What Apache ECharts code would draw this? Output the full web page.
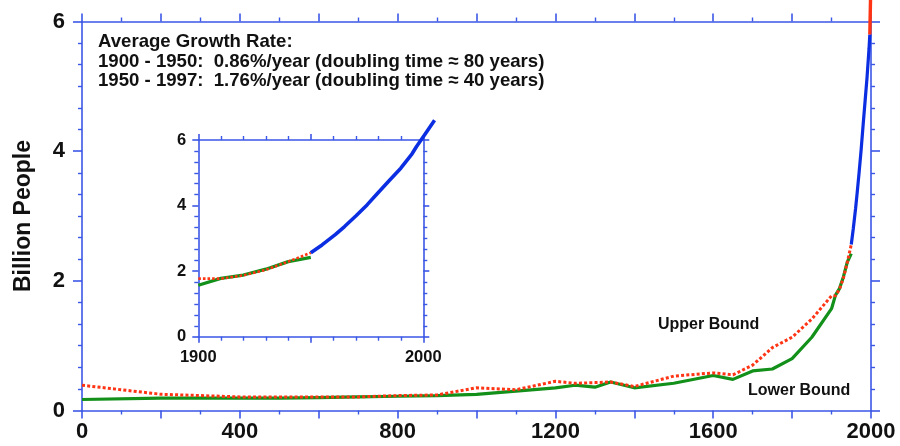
<!DOCTYPE html>
<html>
<head>
<meta charset="utf-8">
<script src="https://cdn.jsdelivr.net/npm/echarts@6/dist/echarts.min.js"></script>
<style>html,body{margin:0;padding:0;background:#fff}#c{width:900px;height:446px}</style>
</head>
<body>
<div id="c"></div>
<script>
// ---- data (billions of people) ----
const boundYears  = [0, 200, 400, 500, 600, 700, 800, 900, 1000, 1100, 1200, 1250, 1300, 1340, 1400, 1500, 1600, 1650, 1700, 1750, 1800, 1850, 1900, 1910, 1920, 1930, 1940, 1950];
const lowerValues = [0.17, 0.19, 0.19, 0.19, 0.20, 0.21, 0.22, 0.23, 0.25, 0.30, 0.35, 0.39, 0.36, 0.44, 0.35, 0.42, 0.54, 0.48, 0.61, 0.64, 0.80, 1.13, 1.57, 1.78, 1.88, 2.06, 2.29, 2.42];
const upperValues = [0.39, 0.25, 0.21, 0.21, 0.21, 0.21, 0.23, 0.24, 0.35, 0.32, 0.45, 0.42, 0.43, 0.44, 0.37, 0.53, 0.58, 0.55, 0.70, 0.97, 1.13, 1.41, 1.77, 1.77, 1.87, 2.04, 2.29, 2.56];
const censusYears  = [1950, 1955, 1961, 1965, 1970, 1975, 1980, 1985, 1990, 1995, 1997, 2000, 2005];
const censusValues = [2.56, 2.80, 3.12, 3.36, 3.68, 4.02, 4.40, 4.77, 5.14, 5.58, 5.80, 6.10, 6.60];
const mainCensusEnd = 1997;
const projYears  = [1997, 2000];
const projValues = [5.80, 6.70];
const mainXTicks = [0, 400, 800, 1200, 1600, 2000];
const insetXTicks = [1900, 2000];
const yTicks = [0, 2, 4, 6];

const pairs = (xs, ys) => xs.map((x, i) => [x, ys[i]]);
const mainCensus = pairs(censusYears, censusValues).filter(p => p[0] <= mainCensusEnd);

const AXIS = '#3b57e6';
const GREEN = '#12901a';
const RED = '#ff3414';
const BLUE = '#0b2ee2';
const FONT = '"Liberation Sans", Arial, Helvetica, sans-serif';

function xAx(grid, pos, min, max, interval, minorSplit, labels, labelSet, fs, margin, tickLen, minorLen) {
  return {
    type: 'value', gridIndex: grid, position: pos, min: min, max: max, interval: interval,
    axisLine: { show: true, onZero: false, lineStyle: { color: AXIS, width: 1.6 } },
    axisTick: { show: true, inside: false, length: tickLen, lineStyle: { color: AXIS, width: 1.6 } },
    minorTick: { show: true, splitNumber: minorSplit, length: minorLen, lineStyle: { color: AXIS, width: 1.4 } },
    splitLine: { show: false },
    axisLabel: {
      show: labels, margin: margin, color: '#111', fontFamily: FONT, fontWeight: 'bold', fontSize: fs,
      formatter: v => (labelSet.indexOf(v) >= 0 ? String(v) : '')
    }
  };
}
function yAx(grid, pos, labels, fs, margin, tickLen, minorLen, extra) {
  return Object.assign({
    type: 'value', gridIndex: grid, position: pos, min: 0, max: 6, interval: 2,
    axisLine: { show: true, onZero: false, lineStyle: { color: AXIS, width: 1.6 } },
    axisTick: { show: true, inside: false, length: tickLen, lineStyle: { color: AXIS, width: 1.6 } },
    minorTick: { show: true, splitNumber: 6, length: minorLen, lineStyle: { color: AXIS, width: 1.4 } },
    splitLine: { show: false },
    axisLabel: {
      show: labels, margin: margin, color: '#111', fontFamily: FONT, fontWeight: 'bold', fontSize: fs,
      formatter: v => (yTicks.indexOf(v) >= 0 ? String(v) : '')
    }
  }, extra || {});
}

// inset frame geometry; a hidden, larger grid (same scale) lets the census line run past the frame
const IN_L = 198.3, IN_T = 140, IN_W = 225, IN_H = 196.7;
const pxPerYear = IN_W / 100, pxPerBillion = IN_H / 6;

const chart = echarts.init(document.getElementById('c'), null, { renderer: 'canvas' });
chart.setOption({
  animation: false,
  backgroundColor: '#fff',
  grid: [
    { left: 82, top: 21.5, width: 789, height: 389 },
    { left: IN_L, top: IN_T, width: IN_W, height: IN_H },
    { left: IN_L, top: IN_T - pxPerBillion, width: IN_W + 10 * pxPerYear, height: IN_H + pxPerBillion }
  ],
  xAxis: [
    xAx(0, 'bottom', 0, 2000, 200, 2, true, mainXTicks, 22, 10, 8, 4),
    xAx(0, 'top', 0, 2000, 200, 2, false, mainXTicks, 22, 10, 8, 4),
    xAx(1, 'bottom', 1900, 2000, 50, 5, true, insetXTicks, 16.5, 12, 6, 4),
    xAx(1, 'top', 1900, 2000, 50, 5, false, insetXTicks, 16.5, 12, 6, 4),
    { type: 'value', gridIndex: 2, min: 1900, max: 2010, show: false }
  ],
  yAxis: [
    yAx(0, 'left', true, 22, 17, 9, 4, {
      name: 'Billion People', nameLocation: 'middle', nameGap: 47,
      nameTextStyle: { color: '#111', fontFamily: FONT, fontWeight: 'bold', fontSize: 23 }
    }),
    yAx(0, 'right', false, 22, 17, 9, 4),
    yAx(1, 'left', true, 16.5, 12, 6, 4),
    yAx(1, 'right', false, 16.5, 12, 6, 4),
    { type: 'value', gridIndex: 2, min: 0, max: 7, show: false }
  ],
  series: [
    { type: 'line', xAxisIndex: 0, yAxisIndex: 0, data: pairs(boundYears, lowerValues), showSymbol: false,
      lineStyle: { color: GREEN, width: 3.2 }, z: 3 },
    { type: 'line', xAxisIndex: 0, yAxisIndex: 0, data: pairs(boundYears, upperValues), showSymbol: false,
      lineStyle: { color: RED, width: 3, type: [3, 2.2], cap: 'butt' }, z: 4 },
    { type: 'line', xAxisIndex: 0, yAxisIndex: 0, data: mainCensus, showSymbol: false,
      lineStyle: { color: BLUE, width: 3.2 }, z: 4 },
    { type: 'line', xAxisIndex: 0, yAxisIndex: 0, data: pairs(projYears, projValues), showSymbol: false, clip: false,
      lineStyle: { color: RED, width: 3.4 }, z: 5 },
    { type: 'line', xAxisIndex: 2, yAxisIndex: 2, data: pairs(boundYears, lowerValues).filter(p => p[0] >= 1900), showSymbol: false,
      lineStyle: { color: GREEN, width: 3.2 }, z: 3 },
    { type: 'line', xAxisIndex: 2, yAxisIndex: 2, data: pairs(boundYears, upperValues).filter(p => p[0] >= 1900), showSymbol: false,
      lineStyle: { color: RED, width: 2.6, type: [2.6, 2], cap: 'butt' }, z: 4 },
    { type: 'line', xAxisIndex: 4, yAxisIndex: 4, data: pairs(censusYears, censusValues), showSymbol: false, clip: false,
      lineStyle: { color: BLUE, width: 3.6 }, z: 4 }
  ],
  graphic: [
    { type: 'text', left: 98, top: 32.5, z: 10,
      style: { text: 'Average Growth Rate:\n1900 - 1950:  0.86%/year (doubling time \u2248 80 years)\n1950 - 1997:  1.76%/year (doubling time \u2248 40 years)',
               font: 'bold 18.6px ' + FONT, lineHeight: 19.5, fill: '#111' } },
    { type: 'text', left: 658, top: 317, z: 10,
      style: { text: 'Upper Bound', font: 'bold 16px ' + FONT, fill: '#111' } },
    { type: 'text', left: 748, top: 383, z: 10,
      style: { text: 'Lower Bound', font: 'bold 16px ' + FONT, fill: '#111' } }
  ]
});
</script>
</body>
</html>
